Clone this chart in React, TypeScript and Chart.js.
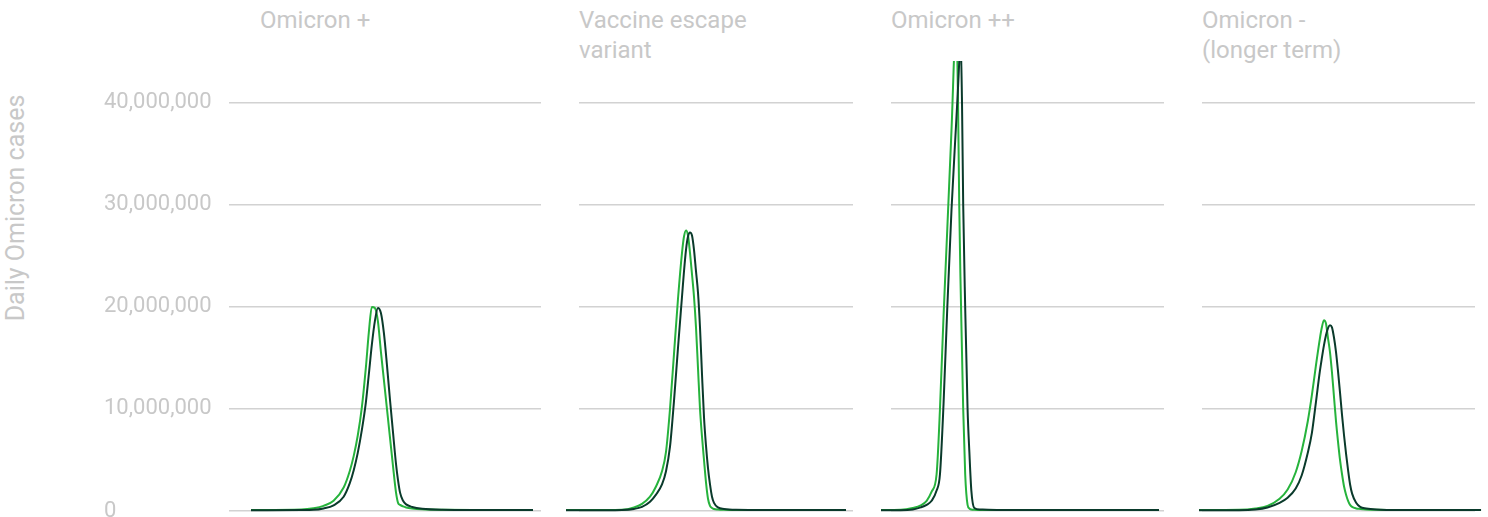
import React, { useEffect, useRef } from "react";
import { Chart, registerables } from "chart.js";

Chart.register(...registerables);

// ---------- DATA (daily cases, in millions) ----------
const yTickValues = [0, 10, 20, 30, 40];
const yAxisTitle = "Daily Omicron cases";
const panelTitles = [
  ["Omicron +"],
  ["Vaccine escape", "variant"],
  ["Omicron ++"],
  ["Omicron -", "(longer term)"],
];
const seriesNames = ["Scenario A", "Scenario B"];

// Panel 1: Omicron +
const p1Days = [0, 25, 31, 36, 41, 46, 49, 51, 53, 55, 57, 58.5, 60, 61.5, 63, 64.5, 66, 67.5, 69, 70.5, 72, 73, 74, 75.5, 77, 80, 85, 95, 110, 140];
const p1Light = [0.1, 0.15, 0.27, 0.5, 1.0, 2.3, 3.9, 5.4, 7.4, 10.1, 14.0, 17.5, 20.0, 19.9, 18.6, 15.6, 12.8, 10.0, 7.2, 4.4, 1.8, 0.8, 0.6, 0.45, 0.35, 0.25, 0.17, 0.12, 0.1, 0.1];
const p1Dark = [0.08, 0.1, 0.12, 0.25, 0.55, 1.4, 2.7, 4.0, 5.7, 7.9, 10.6, 13.4, 16.3, 18.6, 19.9, 19.4, 17.4, 14.3, 10.9, 7.7, 4.6, 3.0, 1.8, 1.0, 0.65, 0.4, 0.22, 0.12, 0.1, 0.1];

// Panel 2: Vaccine escape variant
const p2Days = [0, 20, 28, 34, 38, 42, 45, 48, 50, 52, 54, 56, 58, 59, 60, 61, 62, 63, 64, 65, 66, 67, 68, 69, 70, 71, 72, 73, 74, 76, 79, 85, 100, 140];
const p2Light = [0.1, 0.1, 0.12, 0.35, 0.7, 1.4, 2.4, 3.9, 5.8, 10.0, 15.4, 20.8, 25.3, 26.9, 27.5, 27.0, 25.3, 23.2, 21.0, 18.0, 14.0, 10.0, 7.3, 5.0, 2.8, 1.2, 0.5, 0.3, 0.2, 0.15, 0.12, 0.1, 0.1, 0.1];
const p2Dark = [0.08, 0.08, 0.1, 0.2, 0.4, 0.9, 1.6, 2.6, 3.9, 6.3, 10.8, 16.0, 21.0, 23.5, 25.6, 26.9, 27.3, 27.0, 25.6, 23.5, 21.4, 18.0, 13.4, 9.2, 6.4, 4.2, 2.6, 1.4, 0.8, 0.35, 0.2, 0.12, 0.1, 0.1];

// Panel 3: Omicron ++
const p3Days = [0, 10, 16, 20, 23, 25.5, 28, 29.7, 31.5, 33.4, 35.5, 37.9, 38.8, 39.4, 40, 40.8, 41.4, 42.4, 43.6, 44.5, 45.5, 47, 50, 60, 80, 110, 140];
const p3Light = [0.1, 0.12, 0.3, 0.55, 1.0, 1.9, 3.6, 10.0, 19.1, 27.7, 37.3, 48.0, 40.0, 30.0, 23.0, 15.5, 10.0, 3.6, 0.6, 0.25, 0.15, 0.12, 0.1, 0.1, 0.1, 0.1, 0.1];
const p3Dark = [0.08, 0.08, 0.15, 0.35, 0.6, 1.0, 2.0, 3.6, 10.5, 20.0, 29.5, 38.2, 41.5, 44.0, 47.0, 40.0, 30.0, 20.0, 10.0, 5.8, 2.0, 0.3, 0.15, 0.1, 0.1, 0.1, 0.1];

// Panel 4: Omicron - (longer term)
const p4Days = [0, 20, 28, 34, 40, 44, 48, 51, 54, 56, 58, 60, 61, 62, 63, 64, 65, 66, 67, 68, 69, 70, 71, 72, 73, 74, 75, 76, 78, 80, 83, 88, 100, 115, 140];
const p4Light = [0.1, 0.12, 0.25, 0.5, 1.2, 2.1, 3.8, 5.9, 8.8, 11.3, 14.2, 16.9, 18.0, 18.7, 18.4, 17.0, 15.6, 13.6, 11.2, 8.8, 6.8, 5.0, 3.6, 2.4, 1.6, 1.0, 0.6, 0.4, 0.25, 0.2, 0.15, 0.12, 0.1, 0.1, 0.1];
const p4Dark = [0.08, 0.08, 0.15, 0.35, 0.8, 1.3, 2.2, 3.5, 5.7, 7.6, 10.6, 13.7, 15.0, 16.2, 17.2, 17.9, 18.2, 18.0, 17.0, 15.6, 13.7, 11.6, 9.4, 7.4, 5.6, 4.0, 2.6, 1.7, 0.8, 0.4, 0.25, 0.15, 0.1, 0.1, 0.1];

const panelDays = [p1Days, p2Days, p3Days, p4Days];
const panelLight = [p1Light, p2Light, p3Light, p4Light];
const panelDark = [p1Dark, p2Dark, p3Dark, p4Dark];

// ---------- LAYOUT / STYLE ----------
const FONT = "Roboto, 'Noto Sans', sans-serif";
const TEXT = "#c8c8c8";
const GRID = "#d2d2d2";
const LIGHT = "#26b33c";
const DARK = "#0a3a2b";
const CANVAS_H = 560;
const Y_MAX = 44.1;

const layouts = [
  { left: 104, width: 437, padLeft: 0, padRight: 0, axisWidth: 125, showTicks: true, xMin: -10.92, xMax: 143.97, titleLeft: 260 },
  { left: 559, width: 294, padLeft: 20, padRight: 0, axisWidth: 0, showTicks: false, xMin: 6.5, xMax: 143.5, titleLeft: 579 },
  { left: 871, width: 293, padLeft: 20, padRight: 0, axisWidth: 0, showTicks: false, xMin: 5.04, xMax: 142.52, titleLeft: 891 },
  { left: 1182, width: 303, padLeft: 20, padRight: 10, axisWidth: 0, showTicks: false, xMin: 1.49, xMax: 137.0, titleLeft: 1202 },
];

function toPoints(days: number[], vals: number[]) {
  return days.map((d, i) => ({ x: d, y: vals[i] }));
}

export default function App() {
  const refs = useRef<(HTMLCanvasElement | null)[]>([]);

  useEffect(() => {
    const charts: Chart[] = [];
    layouts.forEach((L, idx) => {
      const canvas = refs.current[idx];
      if (!canvas) return;
      const clip = { left: 25, right: 12, top: 0, bottom: 20 };
      const chart = new Chart(canvas, {
        type: "line",
        data: {
          datasets: [
            {
              label: seriesNames[1],
              data: toPoints(panelDays[idx], panelDark[idx]),
              borderColor: DARK,
              borderWidth: 2,
              pointRadius: 0,
              fill: false,
              cubicInterpolationMode: "monotone",
              clip: clip as any,
            },
            {
              label: seriesNames[0],
              data: toPoints(panelDays[idx], panelLight[idx]),
              borderColor: LIGHT,
              borderWidth: 2,
              pointRadius: 0,
              fill: false,
              cubicInterpolationMode: "monotone",
              clip: clip as any,
            },
          ],
        },
        options: {
          responsive: false,
          animation: false,
          events: [],
          layout: { padding: { top: 61, bottom: CANVAS_H - 511, left: L.padLeft, right: L.padRight } },
          plugins: {
            legend: { display: false },
            tooltip: { enabled: false },
            title: { display: false },
          },
          scales: {
            x: { type: "linear", display: false, min: L.xMin, max: L.xMax },
            y: {
              type: "linear",
              min: 0,
              max: Y_MAX,
              afterFit: (s: any) => {
                s.width = L.axisWidth;
              },
              afterBuildTicks: (s: any) => {
                s.ticks = yTickValues.map((v) => ({ value: v }));
              },
              grid: { color: GRID, lineWidth: 1.5, drawTicks: false },
              border: { display: false },
              ticks: {
                display: L.showTicks,
                crossAlign: "far",
                padding: 0,
                color: TEXT,
                font: { family: FONT, size: 22 },
                callback: (v: any) => (Number(v) * 1e6).toLocaleString("en-US"),
              },
            },
          },
        },
      });
      charts.push(chart);
    });
    return () => charts.forEach((c) => c.destroy());
  }, []);

  return (
    <div
      style={{
        position: "fixed",
        left: 0,
        top: 0,
        width: 1488,
        height: 517,
        overflow: "hidden",
        background: "#ffffff",
        fontFamily: FONT,
      }}
    >
      <div
        style={{
          position: "absolute",
          left: 16,
          top: 208,
          transform: "translate(-50%, -50%) rotate(-90deg)",
          whiteSpace: "nowrap",
          color: TEXT,
          fontSize: 25,
          lineHeight: "28px",
        }}
      >
        {yAxisTitle}
      </div>
      {panelTitles.map((lines, i) => (
        <div
          key={i}
          style={{
            position: "absolute",
            left: layouts[i].titleLeft,
            top: 5,
            color: TEXT,
            fontSize: 24,
            lineHeight: "30px",
            whiteSpace: "nowrap",
          }}
        >
          {lines.map((t, j) => (
            <div key={j}>{t}</div>
          ))}
        </div>
      ))}
      {layouts.map((L, i) => (
        <canvas
          key={i}
          ref={(el) => {
            refs.current[i] = el;
          }}
          width={L.width}
          height={CANVAS_H}
          style={{ position: "absolute", left: L.left, top: 0, width: L.width, height: CANVAS_H }}
        />
      ))}
    </div>
  );
}
